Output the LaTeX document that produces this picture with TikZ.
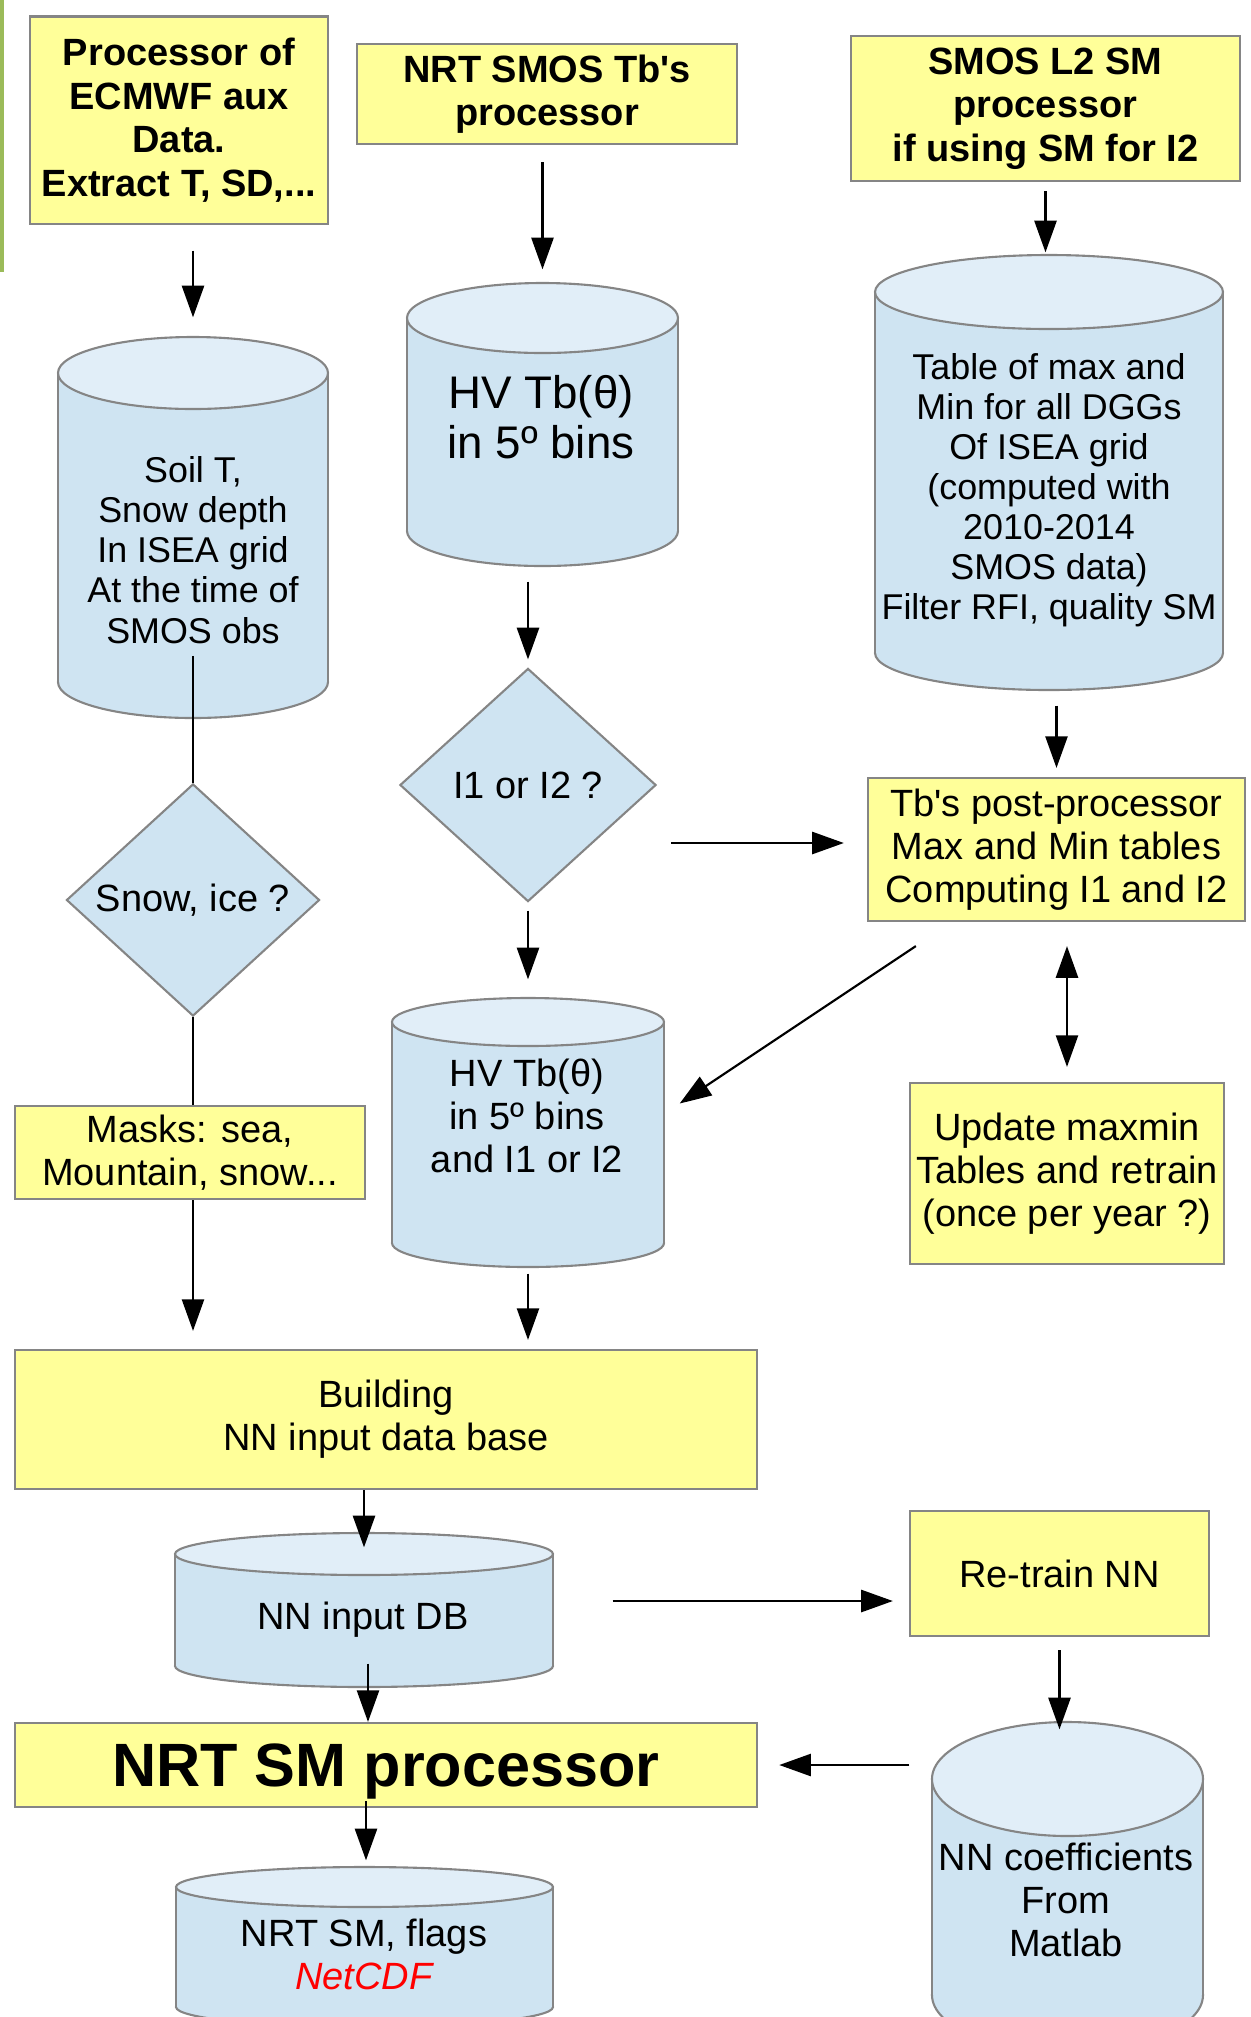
\documentclass[tikz,border=0pt]{standalone}
\usepackage{fontspec}
\setmainfont{Liberation Sans}
\usetikzlibrary{shapes.geometric,arrows.meta,fit}

\definecolor{procfill}{HTML}{FFFF99}
\definecolor{boxline}{HTML}{858585}
\definecolor{dbbody}{HTML}{CFE4F2}
\definecolor{dbtop}{HTML}{E1EEF8}
\definecolor{greenbar}{HTML}{9BBB59}
\definecolor{netred}{HTML}{FF0000}

\tikzset{
  proc/.style={draw=boxline, fill=procfill, line width=0.6pt, align=center, inner sep=0pt},
  boldproc/.style={proc, font=\fontsize{10.8}{12.4}\selectfont\bfseries},
  decide/.style={diamond, draw=boxline, fill=dbbody, line width=0.6pt, align=center, inner sep=0pt},
  dbline/.style={draw=boxline, line width=0.6pt},
  dbtext/.style={align=center},
  arr/.style={line width=0.6pt, -{Triangle[length=9pt,width=6.3pt]}},
  arrtwo/.style={line width=0.6pt, {Triangle[length=9pt,width=6.3pt]}-{Triangle[length=9pt,width=6.3pt]}}
}

% #1 name, #2 centre x, #3 top, #4 bottom, #5 half width, #6 end radius
\newcommand{\dbdrum}[6]{
  \filldraw[dbline, fill=dbbody] (#2,#4-#6) ellipse ({#5} and {#6});
  \fill[dbbody] (#2-#5,#3+#6) rectangle (#2+#5,#4-#6);
  \draw[dbline] (#2-#5,#3+#6) -- (#2-#5,#4-#6) (#2+#5,#3+#6) -- (#2+#5,#4-#6);
  \filldraw[dbline, fill=dbtop] (#2,#3+#6) ellipse ({#5} and {#6});
  \path (#2-#5,#3) coordinate (#1-nw) (#2+#5,#4) coordinate (#1-se);
  \node[fit=(#1-nw)(#1-se), inner sep=0pt] (#1) {};
}

\begin{document}
\begin{tikzpicture}[x=0.01cm, y=-0.01cm, font=\fontsize{10.8}{12.2}\selectfont]
  \path[use as bounding box] (0,0) rectangle (1250,2017);
  \clip (0,0) rectangle (1250,2017);
  \fill[greenbar] (0,0) rectangle (4,272);

  \node[boldproc, minimum width=2.98cm, minimum height=2.07cm] (ecmwf) at (179,120) {Processor of\\ ECMWF aux\\ Data.\\ Extract T, SD,...};
  \node[boldproc, minimum width=3.80cm, minimum height=1.00cm] (nrtsmos) at (547,94) {NRT SMOS Tb\textquotesingle s\\ processor};
  \node[boldproc, minimum width=3.89cm, minimum height=1.45cm] (smosl2) at (1045.5,108.5) {SMOS L2 SM\\ processor\\ if using SM for I2};

  \dbdrum{soil}{193}{337}{718}{135}{36}
  \node[dbtext, font=\fontsize{10.2}{11.4}\selectfont] (soiltxt) at (193,550) {Soil T,\\ Snow depth\\ In ISEA grid\\ At the time of\\ SMOS obs};
  \dbdrum{hvtb}{542.5}{283}{566}{135.5}{35}
  \node[dbtext, font=\fontsize{13}{14.2}\selectfont] (hvtbtxt) at (541,417) {HV Tb(θ)\\ in 5º bins};
  \dbdrum{table}{1049}{255}{690}{174}{37}
  \node[dbtext, font=\fontsize{10.2}{11.4}\selectfont] (tabletxt) at (1049,490) {Table of max and\\ Min for all DGGs\\ Of ISEA grid\\ (computed with\\ 2010-2014\\ SMOS data)\\ Filter RFI, quality SM};

  \node[decide, minimum width=2.53cm, minimum height=2.32cm] (snowice) at (193,900) {Snow, ice ?};
  \node[decide, minimum width=2.56cm, minimum height=2.33cm] (i1i2) at (528,785) {I1 or I2 ?};
  \node[proc, minimum width=3.77cm, minimum height=1.43cm] (postproc) at (1056.5,849.5) {Tb\textquotesingle s post-processor\\ Max and Min tables\\ Computing I1 and I2};
  \node[proc, minimum width=3.50cm, minimum height=0.93cm] (masks) at (190,1152.5) {Masks: sea,\\ Mountain, snow...};
  \dbdrum{hvtbi}{528}{998}{1267}{136}{24}
  \node[dbtext] (hvtbitxt) at (527,1116) {HV Tb(θ)\\ in 5º bins\\ and I1 or I2};
  \node[proc, minimum width=3.14cm, minimum height=1.81cm] (update) at (1067,1173.5) {Update maxmin\\ Tables and retrain\\ (once per year ?)};

  \node[proc, minimum width=7.42cm, minimum height=1.39cm] (building) at (386,1419.5) {Building\\ NN input data base};
  \dbdrum{nninput}{364}{1533}{1687}{189}{21}
  \node[dbtext] (nninputtxt) at (363,1620) {NN input DB};
  \node[proc, minimum width=2.99cm, minimum height=1.25cm] (retrain) at (1059.5,1573.5) {Re-train NN};
  \node[proc, minimum width=7.42cm, minimum height=0.84cm, text depth=0pt, font=\fontsize{17.4}{20}\selectfont\bfseries] (nrtsm) at (386,1765) {NRT SM processor};
  \dbdrum{nncoef}{1067.5}{1722}{2052}{135.5}{57}
  \node[dbtext] (nncoeftxt) at (1066,1900) {NN coefficients\\ From\\ Matlab};
  \dbdrum{nrtflags}{364.5}{1867}{2027}{188.5}{20}
  \node[dbtext] (nrtflagstxt) at (364,1954) {NRT SM, flags\\ \textcolor{netred}{\itshape NetCDF}};

  \draw[arr, shorten <=0.26cm, shorten >=0.19cm] (ecmwf.south -| soil.north) -- (soil.north);
  \draw[arr, shorten <=0.17cm, shorten >=0.13cm] (nrtsmos.south -| hvtb.north) -- (hvtb.north);
  \draw[arr, shorten <=0.09cm, shorten >=0.02cm] (smosl2.south) -- (smosl2.south |- table.north);
  \draw[line width=0.6pt] (soiltxt.south) -- (snowice.north);
  \draw[line width=0.6pt] (snowice.south) -- (snowice.south |- masks.north);
  \draw[arr, shorten >=0.18cm] (snowice.south |- masks.south) -- (snowice.south |- building.north);
  \draw[arr, shorten <=0.15cm, shorten >=0.08cm] (hvtb.south -| i1i2.north) -- (i1i2.north);
  \draw[arr, shorten <=0.08cm, shorten >=0.18cm] (i1i2.south) -- (i1i2.south |- hvtbi.north);
  \draw[arr, shorten <=0.06cm, shorten >=0.09cm] (hvtbi.south) -- (hvtbi.south |- building.north);
  \draw[arr, shorten >=0.23cm] ([shift={(14,58)}]i1i2.east) coordinate (i1out) -- (i1out -| postproc.west);
  \draw[arr, shorten <=0.15cm, shorten >=0.09cm] (postproc.north |- table.south) -- (postproc.north);
  \draw[arr] ([shift={(49,24)}]postproc.south west) -- ([shift={(15,-29)}]hvtbi.east);
  \draw[arrtwo, shorten <=0.24cm, shorten >=0.15cm] (update.north |- postproc.south) -- (update.north);
  \draw[arr, shorten >=-0.15cm] (nninput.north |- building.south) -- (nninput.north);
  \draw[arr] ([shift={(4,-24)}]nninput.south) coordinate (dbout) -- (dbout |- nrtsm.north);
  \draw[arr, shorten >=0.16cm] ([shift={(59,-9)}]nninput.east) coordinate (dbright) -- (dbright -| retrain.west);
  \draw[arr, shorten <=0.13cm, shorten >=-0.08cm] (retrain.south) -- (retrain.south |- nncoef.north);
  \draw[arr, shorten <=0.22cm, shorten >=0.21cm] (nncoef.west |- nrtsm.east) -- (nrtsm.east);
  \draw[arr, shorten >=0.06cm] ([shift={(-20,-7)}]nrtsm.south) coordinate (smout) -- (smout |- nrtflags.north);
\end{tikzpicture}
\end{document}
